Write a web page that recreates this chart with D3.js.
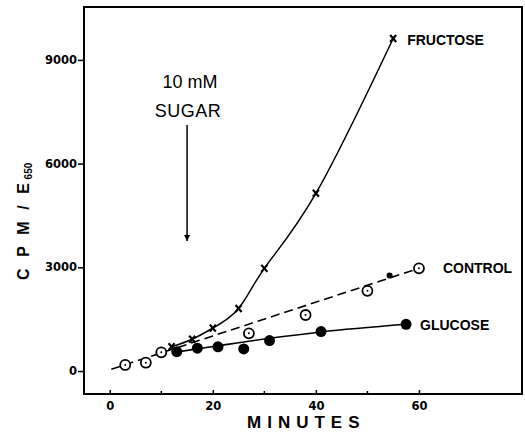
<!DOCTYPE html>
<html><head><meta charset="utf-8">
<script src="https://cdn.jsdelivr.net/npm/d3@7"></script>
<style>
html,body{margin:0;padding:0;background:#fff;}
svg{display:block;}
</style></head>
<body>
<script>
// ---- data ----
const fructoseMin = [12, 16, 20, 25, 30, 40, 55];
const fructoseVal = [700, 920, 1240, 1810, 2970, 5140, 9620];
const controlMin  = [3, 7, 10, 27, 38, 50, 60];
const controlVal  = [175, 240, 540, 1090, 1620, 2320, 2970];
const glucoseMin  = [13, 17, 21, 26, 31, 41, 57.5];
const glucoseVal  = [560, 660, 700, 640, 880, 1140, 1350];
const controlFitMin = [0.3, 60];
const controlFitVal = [50, 2970];
const glucoseFitMin = [12.5, 21, 31, 41, 57.5];
const glucoseFitVal = [540, 730, 946, 1130, 1351];
const strayMin = [54.3];
const strayVal = [2760];
const xTicks = [0, 20, 40, 60];
const xMinorTicks = [10, 30, 50];
const yTicks = [0, 3000, 6000, 9000];
const arrowMin = 15, arrowTopVal = 7120, arrowBottomVal = 3760;

const W = 525, H = 439;
const L = 84, R = 522, T = 7, B = 394;
const svg = d3.select("body").append("svg").attr("width", W).attr("height", H);
const x = d3.scaleLinear().domain([-5, 80]).range([L, R]);
const y = d3.scaleLinear().domain([-665, 10530]).range([B, T]);
const zip = (a, b) => a.map((v, i) => [v, b[i]]);

// frame
svg.append("rect").attr("x", L).attr("y", T).attr("width", R - L).attr("height", B - T)
  .attr("fill", "none").attr("stroke", "#000").attr("stroke-width", 2);

// x axis
const xa = svg.append("g").attr("transform", `translate(0,${B})`)
  .call(d3.axisBottom(x).tickValues(xTicks).tickSize(-4).tickPadding(8).tickFormat(d3.format("d")));
xa.select(".domain").remove();
xa.selectAll("line").attr("stroke-width", 1.5);
xa.selectAll("text").attr("font-family", "DejaVu Sans").attr("font-weight", "bold").attr("font-size", 11.5).attr("fill", "#000");
svg.append("g").selectAll("line").data(xMinorTicks).join("line")
  .attr("x1", d => x(d)).attr("x2", d => x(d)).attr("y1", B).attr("y2", B - 3)
  .attr("stroke", "#000").attr("stroke-width", 1.5);

// y axis
const ya = svg.append("g").attr("transform", `translate(${L},0)`)
  .call(d3.axisLeft(y).tickValues(yTicks).tickSize(6).tickPadding(1).tickFormat(d3.format("d")));
ya.select(".domain").remove();
ya.selectAll("line").attr("stroke-width", 1.5);
ya.selectAll("text").attr("font-family", "DejaVu Sans").attr("font-weight", "bold").attr("font-size", 11.5).attr("fill", "#000");

// axis titles
svg.append("text").attr("x", 247).attr("y", 428)
  .attr("font-family", "Liberation Sans").attr("font-weight", "bold").attr("font-size", 17).attr("letter-spacing", 6)
  .text("MINUTES");
const yl = svg.append("text").attr("transform", "translate(29,280) rotate(-90)")
  .attr("font-family", "Liberation Sans").attr("font-weight", "bold").attr("font-size", 16);
yl.append("tspan").attr("letter-spacing", 3.6).text("C P M / E");
yl.append("tspan").attr("font-size", 10).attr("dy", 3).text("650");

// lines
const line = d3.line().x(d => x(d[0])).y(d => y(d[1]));
svg.append("path").datum(zip(controlFitMin, controlFitVal)).attr("d", line)
  .attr("fill", "none").attr("stroke", "#000").attr("stroke-width", 1.6).attr("stroke-dasharray", "9,5");
svg.append("path").datum(zip(glucoseFitMin, glucoseFitVal)).attr("d", d3.line().x(d => x(d[0])).y(d => y(d[1])).curve(d3.curveMonotoneX))
  .attr("fill", "none").attr("stroke", "#000").attr("stroke-width", 1.6);
svg.append("path").datum(zip(fructoseMin, fructoseVal)).attr("d", d3.line().x(d => x(d[0])).y(d => y(d[1])).curve(d3.curveNatural))
  .attr("fill", "none").attr("stroke", "#000").attr("stroke-width", 1.5);

// markers
svg.append("g").selectAll("circle").data(zip(glucoseMin, glucoseVal)).join("circle")
  .attr("cx", d => x(d[0])).attr("cy", d => y(d[1])).attr("r", 5.5).attr("fill", "#000");
const cg = svg.append("g").selectAll("g").data(zip(controlMin, controlVal)).join("g")
  .attr("transform", d => `translate(${x(d[0])},${y(d[1])})`);
cg.append("circle").attr("r", 5).attr("fill", "#fff").attr("stroke", "#000").attr("stroke-width", 1.8);
cg.append("circle").attr("r", 1).attr("fill", "#000");
const fg = svg.append("g").selectAll("g").data(zip(fructoseMin, fructoseVal)).join("g")
  .attr("transform", d => `translate(${x(d[0])},${y(d[1])})`);
fg.append("path").attr("d", "M-3,-3.5L3,3.5M3,-3.5L-3,3.5").attr("stroke", "#000").attr("stroke-width", 2.2);
svg.append("g").selectAll("circle").data(zip(strayMin, strayVal)).join("circle")
  .attr("cx", d => x(d[0])).attr("cy", d => y(d[1])).attr("r", 3).attr("fill", "#000");

// series labels
const lab = (t, px, py) => svg.append("text").attr("x", px).attr("y", py)
  .attr("font-family", "Liberation Sans").attr("font-weight", "bold").attr("font-size", 14).text(t);
lab("FRUCTOSE", x(fructoseMin[6]) + 14, y(fructoseVal[6]) + 7);
lab("CONTROL", x(controlMin[6]) + 24, y(controlVal[6]) + 5);
lab("GLUCOSE", x(glucoseMin[6]) + 14, y(glucoseVal[6]) + 6);

// annotation
svg.append("defs").append("marker").attr("id", "ah").attr("viewBox", "0 0 10 10")
  .attr("refX", 10).attr("refY", 5).attr("markerWidth", 6).attr("markerHeight", 7)
  .attr("markerUnits", "userSpaceOnUse").attr("orient", "auto")
  .append("path").attr("d", "M0,0L10,5L0,10Z").attr("fill", "#000");
svg.append("line").attr("x1", x(arrowMin)).attr("x2", x(arrowMin))
  .attr("y1", y(arrowTopVal)).attr("y2", y(arrowBottomVal))
  .attr("stroke", "#000").attr("stroke-width", 1.5).attr("marker-end", "url(#ah)");
svg.append("text").attr("x", 190).attr("y", 88).attr("text-anchor", "middle")
  .attr("font-family", "Liberation Sans").attr("font-size", 18).text("10 mM");
svg.append("text").attr("x", 188).attr("y", 117).attr("text-anchor", "middle")
  .attr("font-family", "Liberation Sans").attr("font-size", 18).attr("letter-spacing", 0.5).text("SUGAR");
</script>
</body></html>
